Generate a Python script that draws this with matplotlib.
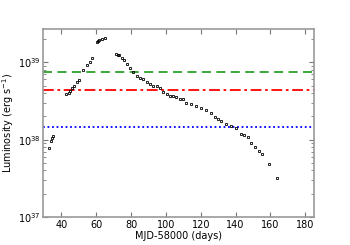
import numpy as np
import matplotlib
matplotlib.use("Agg")
import matplotlib.pyplot as plt

# MJD-58000 (days)
days = [33.2, 34.0, 34.5, 35.0,
        42.9, 44.2, 45.0, 46.1, 47.0, 49.0, 50.3,
        52.7, 55.0, 56.2, 57.5,
        60.4, 61.2, 61.9, 63.2, 65.1,
        71.4, 72.7, 73.3, 74.7, 76.0, 77.5, 79.4, 81.3, 83.3, 85.1,
        87.0, 89.0, 90.9, 92.7, 94.7, 96.6, 98.5, 100.4, 102.3, 104.2,
        106.1, 108.0, 109.9, 111.8, 114.7, 117.5, 120.4, 123.2, 126.1,
        128.0, 129.9, 131.8, 134.7, 137.5, 140.0,
        143.2, 145.1, 147.0, 149.0, 151.3, 153.3, 155.3, 159.1, 163.8]

# luminosity in units of 1e38 erg/s
lum = [0.79, 0.95, 1.05, 1.12,
       3.89, 4.07, 4.27, 4.68, 4.90, 5.50, 5.89,
       7.94, 9.12, 10.0, 11.5,
       18.2, 18.6, 19.5, 20.0, 20.9,
       12.9, 12.6, 12.3, 11.5, 10.7, 9.55, 8.32, 7.41, 6.61, 6.31,
       6.03, 5.62, 5.25, 5.01, 4.90, 4.68, 4.17, 3.89, 3.72, 3.63,
       3.55, 3.39, 3.31, 3.02, 2.88, 2.75, 2.57, 2.40, 2.19,
       1.95, 1.86, 1.74, 1.58, 1.51, 1.41,
       1.17, 1.15, 1.07, 0.91, 0.81, 0.72, 0.66, 0.48, 0.32]

# reference levels (1e38 erg/s)
level_green = 7.6
level_red = 4.4
level_blue = 1.47

days = np.array(days)
lum = np.array(lum) * 1e38

fig = plt.figure(figsize=(3.5, 2.45), dpi=100)
ax = fig.add_axes([0.123, 0.114, 0.774, 0.768])

ax.axhline(level_green * 1e38, color="#2ca02c", ls=(0, (5, 3)), lw=1.3)
ax.axhline(level_red * 1e38, color="red", ls=(0, (6, 2, 1.5, 2)), lw=1.3)
ax.axhline(level_blue * 1e38, color="blue", ls=(0, (1, 1.5)), lw=1.3)

ax.plot(days, lum, "s", ms=1.7, mfc="none", mec="black", mew=0.6)

ax.set_yscale("log")
ax.set_xlim(29.5, 185)
ax.set_ylim(1e37, 2.7e39)
ax.set_xticks([40, 60, 80, 100, 120, 140, 160, 180])

ax.set_xlabel("MJD-58000 (days)", fontsize=7, labelpad=1)
ax.set_ylabel("Luminosity (erg s$^{-1}$)", fontsize=7, labelpad=1)

for side in ["left", "bottom", "right", "top"]:
    ax.spines[side].set_color("#999999")
    ax.spines[side].set_linewidth(1.2)
ax.tick_params(which="both", direction="in", top=True, right=True,
               labelsize=7, colors="#777777", labelcolor="black", pad=2)
ax.tick_params(which="major", length=3.5)
ax.tick_params(which="minor", length=2)

fig.savefig("out.png", dpi=100)
